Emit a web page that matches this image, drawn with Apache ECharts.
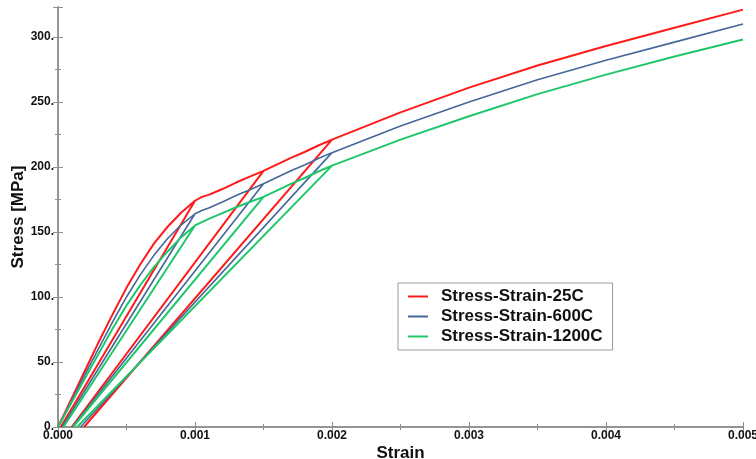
<!DOCTYPE html>
<html>
<head>
<meta charset="utf-8">
<script src="https://cdn.jsdelivr.net/npm/echarts@6/dist/echarts.min.js"></script>
<style>
  html, body { margin: 0; padding: 0; background: #fff; }
  #chart { width: 756px; height: 459px; }
</style>
</head>
<body>
<div id="chart"></div>
<script>
// Loading / unloading / reloading paths: each series runs up the curve,
// drops to zero stress at its residual strain, climbs back, and continues.
const strain25 = [0, 0.0001, 0.0002, 0.0003, 0.0004, 0.0005, 0.0006, 0.0007, 0.0008, 0.0009, 0.001,
  0.00002, 0.001, 0.00105, 0.0011, 0.0012, 0.0013, 0.0014, 0.0015,
  0.0001, 0.0015, 0.0016, 0.0017, 0.0018, 0.0019, 0.002,
  0.00019, 0.002, 0.0025, 0.003, 0.0035, 0.004, 0.0045, 0.005];
const stress25 = [0, 22, 44, 66, 87, 107, 125, 141, 154, 165, 174,
  0, 174, 177, 178.5, 183, 188, 192.5, 197,
  0, 197, 202, 207, 211.5, 216.5, 221,
  0, 221, 242, 261, 278, 293, 307, 321];

const strain600 = [0, 0.0001, 0.0002, 0.0003, 0.0004, 0.0005, 0.0006, 0.0007, 0.0008, 0.0009, 0.001,
  0.00003, 0.001, 0.00105, 0.0011, 0.0012, 0.0013, 0.0014, 0.0015,
  0.000105, 0.0015, 0.0016, 0.0017, 0.0018, 0.0019, 0.002,
  0.000165, 0.002, 0.0025, 0.003, 0.0035, 0.004, 0.0045, 0.005];
const stress600 = [0, 20.5, 41, 61, 81, 100, 117, 132, 145, 155.5, 164,
  0, 164, 166.5, 168.5, 173, 178, 182.5, 187,
  0, 187, 192, 197, 201.5, 206.5, 211,
  0, 211, 231.5, 250, 267, 282, 296, 310];

const strain1200 = [0, 0.0001, 0.0002, 0.0003, 0.0004, 0.0005, 0.0006, 0.0007, 0.0008, 0.0009, 0.001,
  0.00004, 0.001, 0.00105, 0.0011, 0.0012, 0.0013, 0.0014, 0.0015,
  0.00011, 0.0015, 0.0016, 0.0017, 0.0018, 0.0019, 0.002,
  0.00014, 0.002, 0.0025, 0.003, 0.0035, 0.004, 0.0045, 0.005];
const stress1200 = [0, 19, 38, 57, 76, 93.5, 109, 123, 135, 146, 155,
  0, 155, 157.5, 160, 164.5, 169, 173, 177,
  0, 177, 182, 187, 191.5, 196.5, 201,
  0, 201, 221, 239, 256, 271, 285, 298];

const seriesNames = ['Stress-Strain-25C', 'Stress-Strain-600C', 'Stress-Strain-1200C'];
const seriesColors = ['#ff1a1a', '#44679a', '#1fc76a'];

const pairs = (xs, ys) => xs.map((x, i) => [x, ys[i]]);
const paths = [pairs(strain25, stress25), pairs(strain600, stress600), pairs(strain1200, stress1200)];

const FONT = 'Liberation Sans, Arial, Helvetica, sans-serif';
const frameColor = '#8f8f8f';

const frameAxis = {
  axisLine: { show: true, lineStyle: { color: frameColor, width: 1.5 } },
  axisTick: { show: true, inside: true, length: 5, lineStyle: { color: frameColor, width: 1 } },
  minorTick: { show: true, splitNumber: 2, length: 3, lineStyle: { color: frameColor, width: 1 } },
  splitLine: { show: false },
  minorSplitLine: { show: false }
};

const chart = echarts.init(document.getElementById('chart'), null, { renderer: 'canvas' });
chart.setOption({
  animation: false,
  backgroundColor: '#ffffff',
  grid: { left: 58, right: 13, top: 7, bottom: 32, containLabel: false, outerBoundsMode: 'none' },
  legend: {
    left: 398, top: 283,
    orient: 'vertical',
    backgroundColor: '#ffffff',
    borderColor: '#9a9a9a', borderWidth: 1,
    padding: [5, 10, 5, 10],
    itemGap: 3, itemWidth: 20, itemHeight: 2,
    icon: 'rect',
    textStyle: { fontFamily: FONT, fontWeight: 'bold', fontSize: 17, color: '#111', padding: [0, 0, 0, 8] },
    data: seriesNames
  },
  xAxis: [
    Object.assign({
      type: 'value', min: 0, max: 0.005, interval: 0.001, position: 'bottom',
      name: 'Strain', nameLocation: 'middle', nameGap: 18, nameMoveOverlap: false,
      nameTextStyle: { fontFamily: FONT, fontWeight: 'bold', fontSize: 17, color: '#111' },
      axisLabel: { margin: 3, fontFamily: FONT, fontWeight: 'bold', fontSize: 12, color: '#111',
        formatter: v => v.toFixed(3) }
    }, frameAxis),
    Object.assign({
      type: 'value', min: 0, max: 0.005, interval: 0.001, position: 'top',
      axisLabel: { show: false }
    }, frameAxis)
  ],
  yAxis: [
    Object.assign({
      type: 'value', min: 0, max: 323, interval: 50, position: 'left',
      name: 'Stress [MPa]', nameLocation: 'middle', nameGap: 31, nameMoveOverlap: false,
      nameTextStyle: { fontFamily: FONT, fontWeight: 'bold', fontSize: 17, color: '#111' },
      axisLabel: { margin: 4, fontFamily: FONT, fontWeight: 'bold', fontSize: 12, color: '#111',
        formatter: v => (Math.abs(v % 50) < 1e-6 ? Math.round(v) + '.' : '') }
    }, frameAxis),
    Object.assign({
      type: 'value', min: 0, max: 323, interval: 50, position: 'right',
      axisLabel: { show: false }
    }, frameAxis)
  ],
  series: seriesNames.map((name, i) => ({
    name: name,
    type: 'line',
    xAxisIndex: 0, yAxisIndex: 0,
    data: paths[i],
    symbol: 'none',
    showSymbol: false,
    color: seriesColors[i],
    lineStyle: { color: seriesColors[i], width: i === 1 ? 1.6 : 2 },
    emphasis: { disabled: true }
  }))
});
</script>
</body>
</html>
